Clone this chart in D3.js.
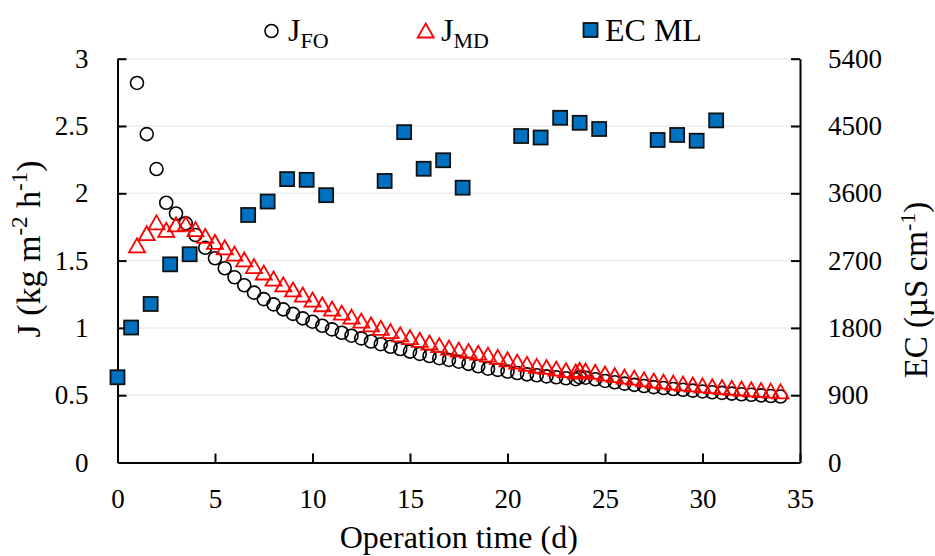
<!DOCTYPE html>
<html>
<head>
<meta charset="utf-8">
<script src="https://cdn.jsdelivr.net/npm/d3@7"></script>
<style>
  html, body { margin: 0; padding: 0; background: #fff; }
  svg { display: block; }
  svg text { font-family: "Liberation Serif", "Times New Roman", serif !important; fill: #000; }
</style>
</head>
<body>
<svg id="chart" width="935" height="556"></svg>
<script>
// ---------------- data ----------------
const jDays = [1.0,1.5,2.0,2.5,3.0,3.5,4.0,4.5,5.0,5.5,6.0,6.5,7.0,7.5,8.0,8.5,9.0,9.5,10.0,10.5,
  11.0,11.5,12.0,12.5,13.0,13.5,14.0,14.5,15.0,15.5,16.0,16.5,17.0,17.5,18.0,18.5,19.0,19.5,20.0,20.5,
  21.0,21.5,22.0,22.5,23.0,23.5,23.7,24.0,24.5,25.0,25.5,26.0,26.5,27.0,27.5,28.0,28.5,29.0,29.5,30.0,
  30.5,31.0,31.5,32.0,32.5,33.0,33.5,34.0];
const jFO = [2.82,2.44,2.18,1.93,1.85,1.777,1.69,1.595,1.517,1.443,1.376,1.317,1.262,1.214,1.175,1.138,1.104,1.071,1.046,1.016,
  0.989,0.964,0.942,0.922,0.899,0.879,0.860,0.843,0.824,0.807,0.791,0.775,0.762,0.749,0.733,0.715,0.697,0.688,0.676,0.665,
  0.655,0.648,0.640,0.633,0.626,0.619,0.634,0.630,0.618,0.606,0.596,0.586,0.577,0.568,0.560,0.553,0.546,0.540,0.534,0.528,
  0.522,0.517,0.512,0.507,0.503,0.499,0.494,0.490];
const jMD = [1.61,1.70,1.78,1.725,1.765,1.77,1.73,1.68,1.635,1.595,1.548,1.505,1.455,1.408,1.363,1.320,1.282,1.244,1.207,1.172,
  1.140,1.110,1.080,1.050,1.022,0.997,0.972,0.948,0.928,0.908,0.888,0.868,0.850,0.835,0.825,0.812,0.798,0.781,0.763,0.746,
  0.729,0.714,0.706,0.694,0.682,0.672,0.684,0.680,0.670,0.657,0.645,0.634,0.627,0.614,0.605,0.597,0.590,0.583,0.576,0.569,
  0.563,0.557,0.551,0.546,0.540,0.535,0.530,0.525];
const ecDays = [0,0.7,1.7,2.7,3.7,6.7,7.7,8.7,9.7,10.7,13.7,14.7,15.7,16.7,17.7,20.7,21.7,22.7,23.7,24.7,27.7,28.7,29.7,30.7];
const ecML = [1140,1805,2120,2650,2785,3310,3490,3790,3780,3575,3765,4418,3928,4042,3675,4366,4346,4610,4543,4460,4313,4380,4303,4575];

const xTicks = [0,5,10,15,20,25,30,35];
const xTickLabels = ["0","5","10","15","20","25","30","35"];
const jTicks = [0,0.5,1,1.5,2,2.5,3];
const jTickLabels = ["0","0.5","1","1.5","2","2.5","3"];
const ecTicks = [0,900,1800,2700,3600,4500,5400];
const ecTickLabels = ["0","900","1800","2700","3600","4500","5400"];

// ---------------- layout ----------------
const L = 117.5, R = 800, T = 58.7, B = 462.5;
const FONT = "'Liberation Serif', 'Times New Roman', serif";
const svg = d3.select("#chart");
const x = d3.scaleLinear().domain([0,35]).range([L,R]);
const yL = d3.scaleLinear().domain([0,3]).range([B,T]);
const yR = d3.scaleLinear().domain([0,5400]).range([B,T]);

const tickFont = 27;

// gridlines
svg.append("g").selectAll("line").data(jTicks.filter(d => d > 0)).join("line")
  .attr("x1", L).attr("x2", R)
  .attr("y1", d => yL(d)).attr("y2", d => yL(d))
  .attr("stroke", "#ededed").attr("stroke-width", 1.5);

// axes
function styleAxis(g) {
  g.attr("font-family", FONT);
  g.selectAll("path.domain").attr("stroke", "#000").attr("stroke-width", 2);
  g.selectAll(".tick line").attr("stroke", "#000").attr("stroke-width", 2);
  g.selectAll("text").style("font-family", FONT).attr("font-size", tickFont).attr("fill", "#000");
}
const gx = svg.append("g").attr("transform", `translate(0,${B})`)
  .call(d3.axisBottom(x).tickValues(xTicks).tickFormat((d,i) => xTickLabels[i]).tickSize(-9).tickSizeOuter(0).tickPadding(26));
styleAxis(gx);
const gl = svg.append("g").attr("transform", `translate(${L},0)`)
  .call(d3.axisLeft(yL).tickValues(jTicks).tickFormat((d,i) => jTickLabels[i]).tickSize(-9).tickSizeOuter(0).tickPadding(29));
styleAxis(gl);
gl.selectAll(".tick").filter(d => d === 0).select("line").remove();
const gr = svg.append("g").attr("transform", `translate(${R},0)`)
  .call(d3.axisRight(yR).tickValues(ecTicks).tickFormat((d,i) => ecTickLabels[i]).tickSize(-9).tickSizeOuter(0).tickPadding(28));
styleAxis(gr);
gr.selectAll(".tick").filter(d => d === 0).select("line").remove();

// axis titles
svg.append("text").attr("x", x(17.5)).attr("y", 548).attr("text-anchor", "middle")
  .style("font-family", FONT).attr("font-size", 32).text("Operation time (d)");

const lt = svg.append("text").attr("transform", "translate(40,249) rotate(-90)")
  .attr("text-anchor", "middle").style("font-family", FONT).attr("font-size", 34);
lt.append("tspan").text("J (kg m");
lt.append("tspan").attr("font-size", 23).attr("dy", -13).text("-2");
lt.append("tspan").attr("dy", 13).text(" h");
lt.append("tspan").attr("font-size", 23).attr("dy", -13).text("-1");
lt.append("tspan").attr("dy", 13).text(")");

const rt = svg.append("text").attr("transform", "translate(927,290) rotate(-90)")
  .attr("text-anchor", "middle").style("font-family", FONT).attr("font-size", 33);
rt.append("tspan").text("EC (\u00b5S cm");
rt.append("tspan").attr("font-size", 22).attr("dy", -12).text("-1");
rt.append("tspan").attr("dy", 12).text(")");

// markers
const triPath = "M0,-7.5L8,6.5L-8,6.5Z";
const plot = svg.append("g");
plot.append("g").selectAll("circle").data(jDays.map((d,i) => [d, jFO[i]])).join("circle")
  .attr("cx", d => x(d[0])).attr("cy", d => yL(d[1])).attr("r", 6.5)
  .attr("fill", "none").attr("stroke", "#000").attr("stroke-width", 1.6);
plot.append("g").selectAll("path").data(jDays.map((d,i) => [d, jMD[i]])).join("path")
  .attr("d", triPath).attr("transform", d => `translate(${x(d[0])},${yL(d[1])})`)
  .attr("fill", "none").attr("stroke", "#ff0000").attr("stroke-width", 1.8).attr("stroke-linejoin", "miter");
plot.append("g").selectAll("rect").data(ecDays.map((d,i) => [d, ecML[i]])).join("rect")
  .attr("x", d => x(d[0]) - 7).attr("y", d => yR(d[1]) - 7).attr("width", 14).attr("height", 14)
  .attr("fill", "#0070c0").attr("stroke", "#111").attr("stroke-width", 1.8);

// legend
const lg = svg.append("g");
lg.append("circle").attr("cx", 271.5).attr("cy", 31).attr("r", 6.5)
  .attr("fill", "none").attr("stroke", "#000").attr("stroke-width", 1.6);
const l1 = lg.append("text").attr("x", 288).attr("y", 41).style("font-family", FONT).attr("font-size", 32);
l1.append("tspan").text("J");
l1.append("tspan").attr("font-size", 22).attr("dy", 7).text("FO");
lg.append("path").attr("d", triPath).attr("transform", "translate(425.7,31)")
  .attr("fill", "none").attr("stroke", "#ff0000").attr("stroke-width", 1.8);
const l2 = lg.append("text").attr("x", 441).attr("y", 41).style("font-family", FONT).attr("font-size", 32);
l2.append("tspan").text("J");
l2.append("tspan").attr("font-size", 22).attr("dy", 7).text("MD");
lg.append("rect").attr("x", 583.5).attr("y", 23).attr("width", 14).attr("height", 14)
  .attr("fill", "#0070c0").attr("stroke", "#111").attr("stroke-width", 1.8);
lg.append("text").attr("x", 605).attr("y", 41).style("font-family", FONT).attr("font-size", 32).text("EC ML");
</script>
</body>
</html>
